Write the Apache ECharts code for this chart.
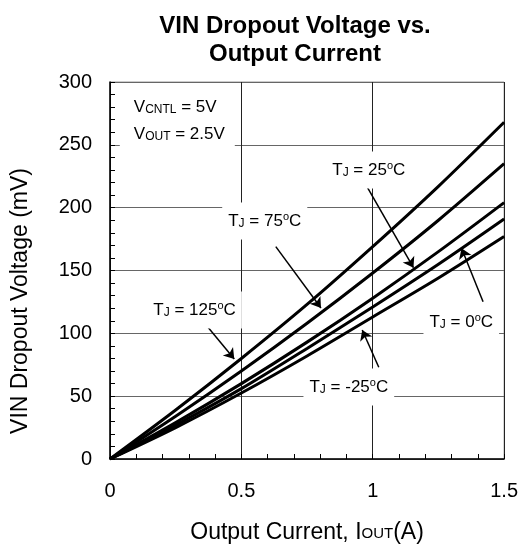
<!DOCTYPE html>
<html>
<head>
<meta charset="utf-8">
<script src="https://cdn.jsdelivr.net/npm/echarts@6/dist/echarts.min.js"></script>
<style>html,body{margin:0;padding:0;background:#fff}#c{width:521px;height:550px}</style>
</head>
<body>
<div id="c"></div>
<script>
// ---- data ----
const currents = [0, 0.25, 0.5, 0.75, 1.0, 1.25, 1.5];
const tj125 = [0, 39, 80, 123, 169, 217, 268];
const tj75  = [0, 34, 70, 108, 148, 190, 235];
const tj25  = [0, 29, 60, 93, 128, 165, 204];
const tj0   = [0, 27, 56, 88, 121, 155, 191];
const tjm25 = [0, 25, 52.5, 82, 113, 144, 177];
const xTicks = [0, 0.5, 1, 1.5];
const yTicks = [0, 50, 100, 150, 200, 250, 300];
// annotation texts and anchors (data coordinates)
const labelTexts = ['T{s|J} = 125{o|o}C', 'T{s|J} = 75{o|o}C', 'T{s|J} = 25{o|o}C', 'T{s|J} = 0{o|o}C', 'T{s|J} = -25{o|o}C'];
const labelAnchors = [[0.322, 118.6], [0.589, 189.4], [0.985, 230], [1.337, 109], [0.909, 57.3]];
const arrowStarts = [[0.369, 105.8], [0.631, 169], [0.978, 216.7], [1.42, 125.2], [1.023, 73]];
const arrowEnds   = [[0.473, 79.6], [0.803, 120.2], [1.155, 152.2], [1.338, 167.7], [0.96, 102.7]];
const condText = 'V{s|CNTL} = 5V\nV{s|OUT} = 2.5V';
const condAnchor = [0.239, 270.2];

const FONT = 'Liberation Sans, Arial, sans-serif';
const rich = {
  s: {fontSize: 12, fontFamily: FONT, color: '#000', verticalAlign: 'bottom', lineHeight: 19, padding: [0,0,1,0]},
  o: {fontSize: 11, fontFamily: FONT, color: '#000', verticalAlign: 'top', lineHeight: 19}
};
const pts = arr => currents.map((x, i) => [x, arr[i]]);
const lineSeries = (name, arr) => ({
  name, type: 'line', data: pts(arr), showSymbol: false, smooth: 0.3,
  lineStyle: {color: '#000', width: 3}, z: 3
});

const chart = echarts.init(document.getElementById('c'), null, {renderer: 'canvas'});
const series = [
  lineSeries('125', tj125), lineSeries('75', tj75), lineSeries('25', tj25),
  lineSeries('0', tj0), lineSeries('-25', tjm25)
];
series[0].markLine = {
  silent: true, animation: false, symbol: ['none', 'arrow'], symbolSize: 10,
  lineStyle: {color: '#000', width: 1.5, type: 'solid'}, label: {show: false},
  data: arrowStarts.map((s, i) => [{coord: s}, {coord: arrowEnds[i]}])
};
series[0].markPoint = {
  silent: true, animation: false, symbol: 'rect', symbolSize: 1,
  itemStyle: {color: 'rgba(0,0,0,0)'},
  data: labelTexts.map((t, i) => ({
    coord: labelAnchors[i],
    label: {show: true, position: 'inside', formatter: t, fontSize: 17, fontFamily: FONT,
      color: '#000', lineHeight: 19, backgroundColor: '#fff', padding: [9, 6], rich}
  })).concat([{
    coord: condAnchor,
    label: {show: true, position: 'inside', formatter: condText, fontSize: 17, fontFamily: FONT,
      color: '#000', lineHeight: 27, align: 'left', backgroundColor: '#fff', padding: [4, 10, 2, 14],
      offset: [-53, 0], rich: {
        s: {fontSize: 12, fontFamily: FONT, color: '#000', verticalAlign: 'bottom', lineHeight: 27, padding: [0,0,5,0]}
      }}
  }])
};

chart.setOption({
  animation: false,
  backgroundColor: '#fff',
  title: {
    text: 'VIN Dropout Voltage vs.\nOutput Current', left: 290, top: 7, textAlign: 'center',
    textStyle: {fontFamily: FONT, fontWeight: 'bold', fontSize: 24, lineHeight: 28, color: '#000'}
  },
  grid: {left: 110, right: 15, top: 82, bottom: 91, show: true, borderColor: '#999', borderWidth: 1, backgroundColor: 'transparent'},
  xAxis: {
    type: 'value', min: 0, max: 1.5, interval: 0.5,
    name: 'Output Current, I{s|OUT}(A)', nameLocation: 'middle', nameGap: 62,
    nameTextStyle: {fontFamily: FONT, fontSize: 23, color: '#000', rich: {s: {fontSize: 15, fontFamily: FONT, color: '#000', verticalAlign: 'bottom', padding: [0,0,3,0]}}},
    axisLine: {show: true, lineStyle: {color: '#000', width: 1.5}},
    axisTick: {show: true, inside: true, length: 5, lineStyle: {color: '#000'}},
    minorTick: {show: true, splitNumber: 5, length: 5, lineStyle: {color: '#000'}},
    axisLabel: {fontFamily: FONT, fontSize: 20, color: '#000', margin: 22,
      customValues: xTicks, formatter: v => String(v)},
    splitLine: {show: true, lineStyle: {color: '#222', width: 1}}
  },
  yAxis: {
    type: 'value', min: 0, max: 300, interval: 50,
    axisLine: {show: true, lineStyle: {color: '#000', width: 1.5}},
    axisTick: {show: true, inside: true, length: 5, lineStyle: {color: '#000'}},
    minorTick: {show: true, splitNumber: 5, length: 5, lineStyle: {color: '#000'}},
    axisLabel: {fontFamily: FONT, fontSize: 20, color: '#000', margin: 18,
      customValues: yTicks, formatter: v => String(v)},
    splitLine: {show: true, lineStyle: {color: '#666', width: 1}}
  },
  graphic: [{
    type: 'text', x: 21, y: 301, rotation: Math.PI / 2,
    style: {text: 'VIN Dropout Voltage (mV)', fontFamily: FONT, fontSize: 23, fill: '#000', align: 'center', verticalAlign: 'middle'}
  }],
  series
});
</script>
</body>
</html>
